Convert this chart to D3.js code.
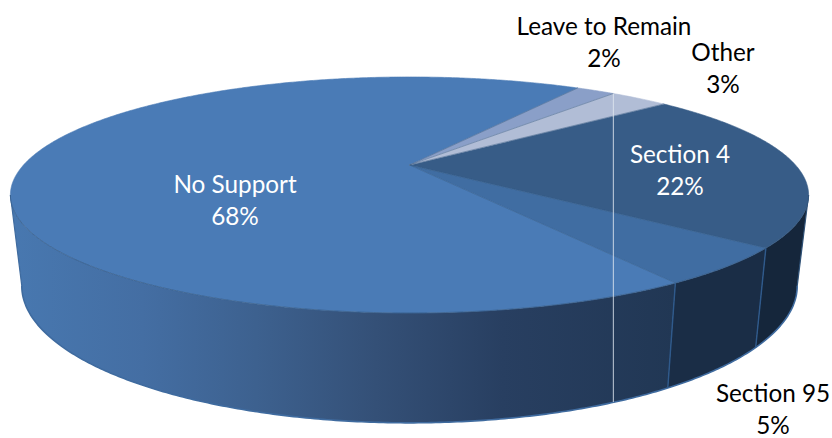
<!DOCTYPE html>
<html>
<head>
<meta charset="utf-8">
<script src="https://cdn.jsdelivr.net/npm/d3@7"></script>
<style>
html,body{margin:0;padding:0;background:#fff}
svg{display:block}
text{font-family:Lato,"Open Sans",sans-serif;font-size:24.3px;text-anchor:middle}
</style>
</head>
<body>
<svg id="chart" width="832" height="438"></svg>
<script>
// Support categories, in clockwise order around the disc
const categories = ["Section 4", "Section 95", "No Support", "Leave to Remain", "Other"];
const shares = [22, 5, 68, 2, 3];

const topColors = ["#375c87", "#406da2", "#4a7bb6", "#8a9fc8", "#b1bdd6"];
const labelColors = ["#fff", "#000", "#fff", "#000", "#000"];
const labelCenters = [[680, 163], [773, 402], [235, 193], [604, 35], [723, 61]];

const deg = Math.PI / 180;
const svg = d3.select("#chart");

// Perspective projection of the unit disc onto the page
const tilt = 0.254;
const projector = (ax, ay, cx, cy) => a => {
  const u = Math.cos(a), v = Math.sin(a), w = 1 - tilt * v;
  return [cx + ax * u / w, cy + ay * v / w];
};
const topRim = projector(386, 110.4, 409.5, 165);
const baseRim = projector(375, 128.2, 409.5, 251);
const apex = [409.5, 165];

const startDeg = -40;
const arcs = d3.pie().sort(null).value(d => d)
  .startAngle(startDeg * deg).endAngle(startDeg * deg + 2 * Math.PI)(shares);

const line = d3.line();
const sweep = (a0, a1) => {
  const n = Math.max(2, Math.ceil(Math.abs(a1 - a0) / (0.5 * deg)));
  return d3.range(n + 1).map(i => a0 + (a1 - a0) * i / n);
};

// Only the front of the rim is visible, between the two silhouette tangents
const tangent = Math.asin(tilt);
const frontStart = tangent, frontEnd = Math.PI - tangent;

const wallStops = [[0, "#4878b0"], [0.2, "#446ea3"], [0.37, "#3d618f"], [0.55, "#345077"], [0.74, "#283f61"], [1, "#213754"]];
const grad = svg.append("defs").append("linearGradient").attr("id", "wallShade")
  .attr("gradientUnits", "userSpaceOnUse")
  .attr("x1", 10).attr("x2", 675).attr("y1", 0).attr("y2", 0);
grad.selectAll("stop").data(wallStops).join("stop")
  .attr("offset", d => d[0]).attr("stop-color", d => d[1]);

const wallFill = ["#15263b", "#1a2d46", "url(#wallShade)"];

// Side wall, one band per visible slice
arcs.forEach((d, i) => {
  const a0 = Math.max(d.startAngle, frontStart), a1 = Math.min(d.endAngle, frontEnd);
  if (a1 <= a0) return;
  const pts = sweep(a0, a1).map(topRim).concat(sweep(a1, a0).map(baseRim));
  svg.append("path").attr("d", line(pts) + "Z").attr("fill", wallFill[i]);
});

// Lit lower edge of the wall
svg.append("path")
  .attr("d", line(sweep(frontStart, frontEnd).map(baseRim)))
  .attr("fill", "none").attr("stroke", "#3f6b9f").attr("stroke-width", 1.6);

// Silhouette of the wall
[frontStart, frontEnd].forEach(a => {
  svg.append("line")
    .attr("x1", topRim(a)[0]).attr("y1", topRim(a)[1])
    .attr("x2", baseRim(a)[0]).attr("y2", baseRim(a)[1])
    .attr("stroke", a === frontStart ? "#2f5177" : "#3f6b9f").attr("stroke-width", 1.2);
});

// Seams where slices meet on the wall
arcs.forEach(d => {
  const a = d.startAngle;
  if (a < frontStart || a > frontEnd) return;
  const t = topRim(a), b = baseRim(a);
  svg.append("line").attr("x1", t[0]).attr("y1", t[1]).attr("x2", b[0]).attr("y2", b[1])
    .attr("stroke", "#2f5a8c").attr("stroke-width", 1.4);
});

// Top face
svg.append("g").selectAll("path").data(arcs).join("path")
  .attr("d", d => line([apex].concat(sweep(d.startAngle, d.endAngle).map(topRim))) + "Z")
  .attr("fill", (d, i) => topColors[i])
  .attr("stroke", (d, i) => topColors[i])
  .attr("stroke-width", 0.6);

// Fine darker seams on the top face
arcs.forEach(d => {
  const p = topRim(d.startAngle);
  svg.append("line").attr("x1", apex[0]).attr("y1", apex[1]).attr("x2", p[0]).attr("y2", p[1])
    .attr("stroke", "#33587f").attr("stroke-opacity", 0.55).attr("stroke-width", 0.8);
});
svg.append("path")
  .attr("d", line(sweep(frontStart, frontEnd).map(topRim)))
  .attr("fill", "none").attr("stroke", "#2f5177").attr("stroke-opacity", 0.7).attr("stroke-width", 0.8);

// Pale hairline dropping from the rim down the front
const hairTop = topRim(arcs[4].startAngle);
const basePoints = sweep(frontStart, frontEnd).map(baseRim);
const hairEnd = basePoints[d3.leastIndex(basePoints, p => Math.abs(p[0] - hairTop[0]))];
svg.append("line").attr("x1", hairTop[0]).attr("y1", hairTop[1]).attr("x2", hairTop[0]).attr("y2", hairEnd[1])
  .attr("stroke", "#dfe6f0").attr("stroke-opacity", 0.85).attr("stroke-width", 1);

// Category and share labels
const labels = svg.append("g").selectAll("text").data(arcs).join("text")
  .attr("fill", (d, i) => labelColors[i]);
labels.append("tspan")
  .attr("x", (d, i) => labelCenters[i][0]).attr("y", (d, i) => labelCenters[i][1])
  .text((d, i) => categories[i]);
labels.append("tspan")
  .attr("x", (d, i) => labelCenters[i][0]).attr("y", (d, i) => labelCenters[i][1] + 32)
  .text(d => d.value + "%");
</script>
</body>
</html>
